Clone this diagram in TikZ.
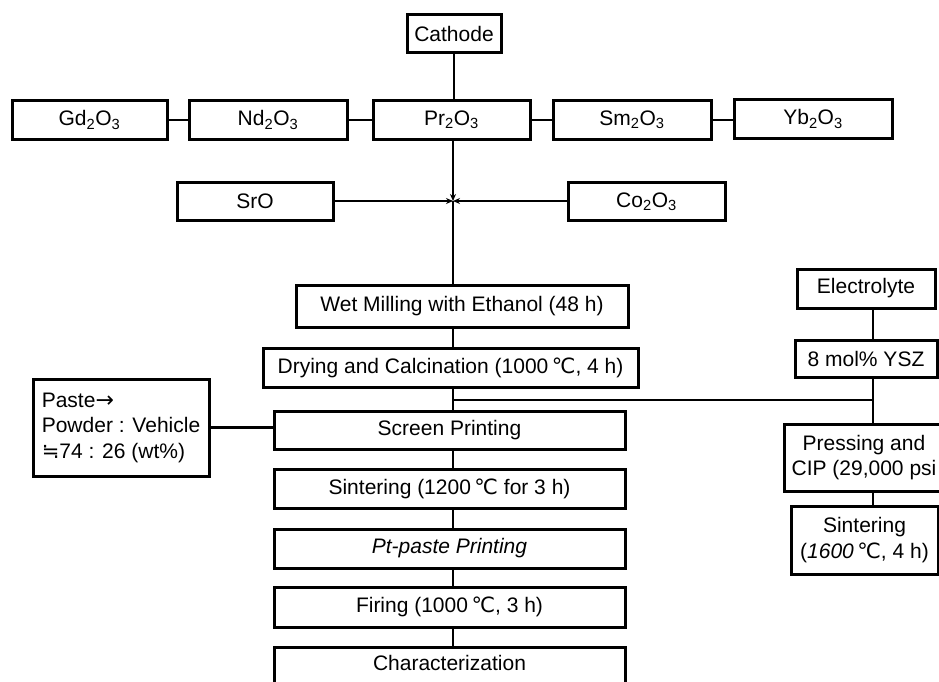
\documentclass[tikz,border=0pt]{standalone}
\usepackage{fontspec}
\setmainfont{Liberation Sans}
\newfontfamily\dvs{DejaVu Sans}
\usetikzlibrary{arrows.meta}
\newcommand{\degC}{\,{\dvs ℃}}
\newcommand{\aprx}{{\dvs ≒}}
\newcommand{\rarr}{{\dvs\fontsize{22}{25.5}\selectfont →}}
\newcommand{\subn}[1]{\textsubscript{#1}}
\begin{document}
\begin{tikzpicture}[x=1pt,y=-1pt,
  box/.style={draw, line width=3pt, inner sep=0pt, align=center,
              font=\fontsize{21}{25.5}\selectfont},
  lbl/.style={inner sep=0pt, align=center, font=\fontsize{21}{25.5}\selectfont},
  conn/.style={line width=2.6pt},
  thinconn/.style={line width=1.8pt},
  ar/.style={-{Stealth[length=7pt,width=6pt]}, line width=1.8pt}]
\useasboundingbox[fill=white] (0,0) rectangle (939,682);
\clip (0,0) rectangle (939,682);

% top
\node[box, minimum width=94pt, minimum height=38pt] (cathode) at (454,34) {Cathode};
\node[box, minimum width=155pt, minimum height=38pt] (gd) at (89.5,120) {Gd\subn{2}O\subn{3}};
\node[box, minimum width=158pt, minimum height=38pt] (nd) at (268,120) {Nd\subn{2}O\subn{3}};
\node[box, minimum width=157pt, minimum height=38pt] (pr) at (451.5,120) {Pr\subn{2}O\subn{3}};
\node[box, minimum width=158pt, minimum height=38pt] (sm) at (632,120) {Sm\subn{2}O\subn{3}};
\node[box, minimum width=158pt, minimum height=38pt] (yb) at (813,119) {Yb\subn{2}O\subn{3}};
\node[box, minimum width=156pt, minimum height=38pt] (sro) at (255,201) {SrO};
\node[box, minimum width=157pt, minimum height=38pt] (co) at (646.5,201.5) {Co\subn{2}O\subn{3}};

% main column
\node[box, minimum width=332pt, minimum height=42pt] (wet) at (462,306) {Wet Milling with Ethanol (48 h)};
\node[box, minimum width=375pt, minimum height=39pt] (dry) at (450.5,367.5) {Drying and Calcination (1000\degC, 4 h)};
\node[box, minimum width=351pt, minimum height=38pt] (screen) at (449.5,430) {Screen Printing};
\node[box, minimum width=351pt, minimum height=39pt] (sint) at (449.5,488.5) {Sintering (1200\degC\ for 3 h)};
\node[box, minimum width=351pt, minimum height=39pt] (pt) at (449.5,548.5) {\textit{Pt-paste Printing}};
\node[box, minimum width=351pt, minimum height=40pt] (fire) at (449.5,607) {Firing (1000\degC, 3 h)};
\node[box, minimum width=351pt, minimum height=53pt] (char) at (449.5,673.5) {};
\node[lbl] (chartext) at (449.5,663) {Characterization};

% paste
\node[box, align=left, minimum width=176pt, minimum height=97pt] (paste) at (121,427.5)
  {Paste\rarr\\Powder : Vehicle\\\aprx 74 : 26 (wt\%)};

% electrolyte column
\node[box, minimum width=138pt, minimum height=39pt] (elec) at (866,288.5) {Electrolyte};
\node[box, minimum width=142pt, minimum height=37pt] (ysz) at (866,358.5) {8 mol\% YSZ};
\node[box, minimum width=167pt, minimum height=67pt] (press) at (867.5,457.5) {};
\node[lbl] (presstext) at (864,457.5) {Pressing and\\CIP (29,000 psi};
\node[box, minimum width=147pt, minimum height=68pt] (sint2) at (864.5,540) {Sintering\\(\textit{1600}\degC, 4 h)};

% junction coordinates
\coordinate (j1) at (453,201);
\coordinate (j3) at (453,400);
\coordinate (j4) at (873,400);

% connectors
\draw[conn] (cathode.south) -- (cathode.south |- pr.north);
\draw[conn] (gd.east) -- (nd.west);
\draw[conn] (nd.east) -- (pr.west);
\draw[conn] (pr.east) -- (sm.west);
\draw[conn] (sm.east) -- (yb.west |- sm.east);
\draw[ar, line width=2.4pt] (pr.south -| j1) -- (j1);
\draw[ar] (sro.east) -- (j1);
\draw[ar] (co.west |- j1) -- (j1);
\draw[thinconn] (j1) -- (j1 |- wet.north);
\draw[conn] (wet.south -| j1) -- (dry.north -| j1);
\draw[conn] (dry.south -| j1) -- (screen.north -| j1);
\draw[conn] (j3) -- (j4);
\draw[conn] (screen.south -| j1) -- (sint.north -| j1);
\draw[conn] (sint.south -| j1) -- (pt.north -| j1);
\draw[conn] (pt.south -| j1) -- (fire.north -| j1);
\draw[conn] (fire.south -| j1) -- (char.north -| j1);
\draw[conn] (paste.east) -- (paste.east -| screen.west);
\draw[conn] (elec.south -| j4) -- (ysz.north -| j4);
\draw[conn] (ysz.south -| j4) -- (press.north -| j4);
\draw[conn] (press.south -| j4) -- (sint2.north -| j4);
\end{tikzpicture}
\end{document}
